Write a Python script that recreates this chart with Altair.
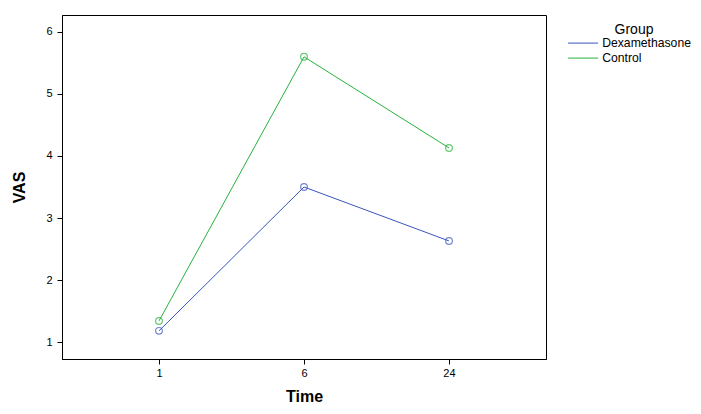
import altair as alt
import pandas as pd

times = ["1", "6", "24"]
dexamethasone = [1.18, 3.50, 2.63]
control = [1.34, 5.60, 4.13]
groups = ["Dexamethasone", "Control"]
colors = ["#3a55bd", "#26b33d"]

rows = []
for t, v in zip(times, dexamethasone):
    rows.append({"Time": t, "VAS": v, "Group": "Dexamethasone"})
for t, v in zip(times, control):
    rows.append({"Time": t, "VAS": v, "Group": "Control"})
df = pd.DataFrame(rows)

x = alt.X("Time:N", sort=times, scale=alt.Scale(type="point", padding=0.669),
          axis=alt.Axis(title="Time", labelAngle=0, grid=False, tickSize=5,
                        tickColor="black", domainColor="black", labelPadding=3,
                        titleFontSize=16, titleFontWeight="bold", titlePadding=10))
y = alt.Y("VAS:Q", scale=alt.Scale(domain=[0.726, 6.274], nice=False, zero=False),
          axis=alt.Axis(title="VAS", values=[1, 2, 3, 4, 5, 6], grid=False, tickSize=5,
                        tickColor="black", domainColor="black", labelPadding=5,
                        titleFontSize=16, titleFontWeight="bold", titlePadding=18))
color = alt.Color("Group:N", sort=groups,
                  scale=alt.Scale(domain=groups, range=colors),
                  legend=alt.Legend(title="Group", orient="none", legendX=515, legendY=8,
                                    symbolType="M-3,0H3", symbolSize=100,
                                    symbolStrokeWidth=1, symbolFillColor="transparent",
                                    labelFontSize=12.2,
                                    titleFontSize=14, titleFontWeight="normal",
                                    titleAnchor="middle", rowPadding=2, labelOffset=13,
                                    titlePadding=0, labelLimit=200))

lines = alt.Chart(df).mark_line(strokeWidth=1).encode(x=x, y=y, color=color)
points = alt.Chart(df).mark_point(shape="circle", filled=False, size=45, strokeWidth=1.2).encode(
    x=x, y=y, color=alt.Color("Group:N", sort=groups,
                              scale=alt.Scale(domain=groups, range=colors), legend=None))

chart = (lines + points).properties(
    width=484, height=344,
    autosize=alt.AutoSizeParams(type="none"),
    padding={"left": 54, "top": 7, "right": 147, "bottom": 46},
).configure_view(stroke="black", strokeWidth=1).configure_axis(
    labelFont="Liberation Sans", titleFont="Liberation Sans", labelFontSize=11,
    labelColor="black", titleColor="black"
).configure_legend(labelFont="Liberation Sans", titleFont="Liberation Sans",
                   labelColor="black", titleColor="black")

chart.save("out.html", embed_options={"renderer": "svg", "actions": False})
